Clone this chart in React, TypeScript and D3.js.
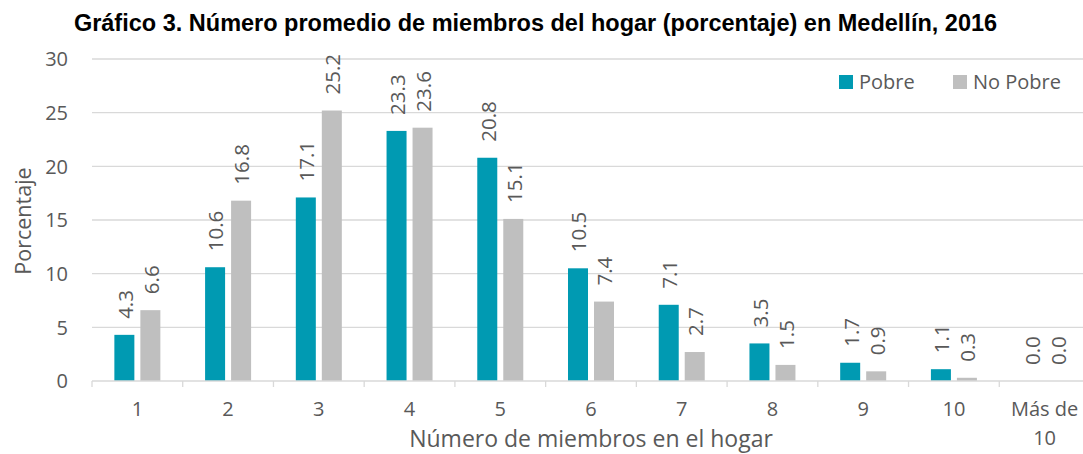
import React from "react";
import * as d3 from "d3";

const categories = ["1", "2", "3", "4", "5", "6", "7", "8", "9", "10", "Más de 10"];
const categoryLines = [["1"], ["2"], ["3"], ["4"], ["5"], ["6"], ["7"], ["8"], ["9"], ["10"], ["Más de", "10"]];
const pobre = [4.3, 10.6, 17.1, 23.3, 20.8, 10.5, 7.1, 3.5, 1.7, 1.1, 0.0];
const noPobre = [6.6, 16.8, 25.2, 23.6, 15.1, 7.4, 2.7, 1.5, 0.9, 0.3, 0.0];
const yTicks = [0, 5, 10, 15, 20, 25, 30];
const seriesNames = ["Pobre", "No Pobre"];

const W = 1083;
const H = 454;
const TEAL = "#009AB2";
const GRAY = "#BFBFBF";
const TXT = "#595959";
const GRID = "#D9D9D9";
const FONT = "'Open Sans', sans-serif";

export default function App() {
  const x = d3.scaleBand<string>().domain(categories).range([92, 1090]).paddingInner(0).paddingOuter(0);
  const y = d3.scaleLinear().domain([0, 30]).range([381, 59]);
  const barW = 20;
  const gap = 6;
  const series = [pobre, noPobre];
  const colors = [TEAL, GRAY];
  const legendX = [839, 953];

  return (
    <svg width={W} height={H} style={{ position: "absolute", left: 0, top: 0, background: "#fff" }}>
      <text x={535.5} y={31} textAnchor="middle" fontFamily="'Liberation Sans', Arial, sans-serif" fontWeight="bold" fontSize={23.5} fill="#000">
        Gráfico 3. Número promedio de miembros del hogar (porcentaje) en Medellín, 2016
      </text>
      {yTicks.map((t) => (
        <g key={t}>
          {t > 0 && <line x1={92} x2={W} y1={y(t)} y2={y(t)} stroke={GRID} strokeWidth={1.3} />}
          <text x={68} y={y(t)} dy="0.36em" textAnchor="end" fontFamily={FONT} fontSize={20} fill={TXT}>
            {t}
          </text>
        </g>
      ))}
      {categories.map((c, i) => {
        const x0 = x(c)!;
        const cx = x0 + x.bandwidth() / 2;
        return (
          <g key={c}>
            {series.map((s, k) => {
              const bx = cx - gap / 2 - barW + k * (barW + gap);
              const v = s[i];
              return (
                <g key={k}>
                  <rect x={bx} y={y(v)} width={barW} height={y(0) - y(v)} fill={colors[k]} />
                  <text
                    transform={`translate(${bx + barW / 2 + 1},${y(v) - 16}) rotate(-90)`}
                    textAnchor="start"
                    dy="0.36em"
                    fontFamily={FONT}
                    fontSize={20.5}
                    fill={TXT}
                  >
                    {v.toFixed(1)}
                  </text>
                </g>
              );
            })}
            <text x={cx} y={416} textAnchor="middle" fontFamily={FONT} fontSize={20} fill={TXT}>
              {categoryLines[i].map((ln, j) => (
                <tspan key={j} x={cx} dy={j === 0 ? 0 : 29}>
                  {ln}
                </tspan>
              ))}
            </text>
          </g>
        );
      })}
      <line x1={92} x2={W} y1={y(0)} y2={y(0)} stroke={GRID} strokeWidth={1.3} />
      {d3.range(categories.length + 1).map((i) => {
        const xx = 92 + i * x.bandwidth();
        return <line key={i} x1={xx} x2={xx} y1={y(0)} y2={y(0) + 6} stroke={GRID} strokeWidth={1.3} />;
      })}
      <text transform={`translate(23,221) rotate(-90)`} textAnchor="middle" dy="0.36em" fontFamily={FONT} fontSize={21.5} fill={TXT}>
        Porcentaje
      </text>
      <text x={591} y={447} textAnchor="middle" fontFamily={FONT} fontSize={23} fill={TXT}>
        Número de miembros en el hogar
      </text>
      {seriesNames.map((n, k) => {
        const lx = legendX[k];
        return (
          <g key={n}>
            <rect x={lx} y={75} width={14} height={14} fill={colors[k]} />
            <text x={lx + 20} y={82} dy="0.36em" fontFamily={FONT} fontSize={20} fill={TXT}>
              {n}
            </text>
          </g>
        );
      })}
    </svg>
  );
}
